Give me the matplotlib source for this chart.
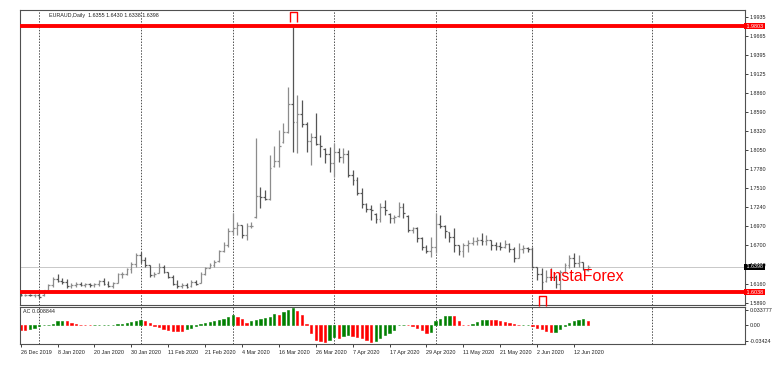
import matplotlib
matplotlib.use("Agg")
import matplotlib.pyplot as plt
import matplotlib.transforms as mtransforms
from matplotlib.collections import LineCollection
from matplotlib.path import Path
import numpy as np

# EURAUD daily bars, 26 Dec 2019 .. mid Jun 2020
opens = [1.6010, 1.6000, 1.6005, 1.5995, 1.6000, 1.5995, 1.6070, 1.6140, 1.6230, 1.6200,
         1.6180, 1.6120, 1.6140, 1.6160, 1.6135, 1.6150, 1.6140, 1.6150, 1.6190, 1.6160,
         1.6130, 1.6170, 1.6290, 1.6300, 1.6360, 1.6440, 1.6560, 1.6500, 1.6420, 1.6280,
         1.6315, 1.6400, 1.6325, 1.6260, 1.6160, 1.6120, 1.6140, 1.6120, 1.6180, 1.6175,
         1.6300, 1.6385, 1.6420, 1.6475, 1.6620, 1.6700, 1.6900, 1.6950, 1.6985, 1.6850,
         1.6980, 1.7100, 1.7400, 1.7380, 1.7360, 1.7820, 1.7900, 1.8160, 1.8300, 1.8700,
         1.8450, 1.8560, 1.8420, 1.8180, 1.8240, 1.8130, 1.8070, 1.8000, 1.7860, 1.8020,
         1.7950, 1.7990, 1.7700, 1.7620, 1.7440, 1.7280, 1.7210, 1.7150, 1.7080, 1.7240,
         1.7150, 1.7090, 1.7110, 1.7240, 1.7120, 1.6920, 1.6950, 1.6800, 1.6680, 1.6620,
         1.6680, 1.7000, 1.6980, 1.6890, 1.6820, 1.6700, 1.6620, 1.6700, 1.6740, 1.6760,
         1.6780, 1.6760, 1.6775, 1.6700, 1.6690, 1.6680, 1.6720, 1.6650, 1.6520, 1.6650,
         1.6660, 1.6650, 1.6395, 1.6300, 1.6190, 1.6260, 1.6250, 1.6150, 1.6320, 1.6420,
         1.6520, 1.6450, 1.6460, 1.6355]
highs = [1.6025, 1.6020, 1.6015, 1.6010, 1.6030, 1.6075, 1.6150, 1.6250, 1.6300, 1.6240,
         1.6230, 1.6170, 1.6185, 1.6185, 1.6175, 1.6175, 1.6175, 1.6215, 1.6235, 1.6200,
         1.6180, 1.6310, 1.6330, 1.6380, 1.6470, 1.6593, 1.6611, 1.6541, 1.6423, 1.6328,
         1.6452, 1.6423, 1.6328, 1.6282, 1.6211, 1.6169, 1.6169, 1.6211, 1.6211, 1.6328,
         1.6399, 1.6452, 1.6494, 1.6635, 1.6753, 1.6947, 1.7159, 1.7036, 1.6989, 1.7017,
         1.7036, 1.8220, 1.7531, 1.7484, 1.7979, 1.8106, 1.8333, 1.8432, 1.8945, 1.9803,
         1.8828, 1.8757, 1.8450, 1.8290, 1.8573, 1.8262, 1.8078, 1.8097, 1.8149, 1.8078,
         1.8078, 1.8050, 1.7767, 1.7672, 1.7512, 1.7300, 1.7272, 1.7159, 1.7300, 1.7343,
         1.7159, 1.7131, 1.7319, 1.7300, 1.7131, 1.6965, 1.6965, 1.6824, 1.6706, 1.6824,
         1.7159, 1.7131, 1.6989, 1.6894, 1.6947, 1.6706, 1.6735, 1.6777, 1.6824, 1.6824,
         1.6876, 1.6848, 1.6777, 1.6753, 1.6753, 1.6777, 1.6735, 1.6682, 1.6735, 1.6706,
         1.6682, 1.6682, 1.6399, 1.6381, 1.6353, 1.6377, 1.6282, 1.6353, 1.6452, 1.6565,
         1.6589, 1.6565, 1.6470, 1.6430]
lows = [1.5985, 1.5990, 1.5980, 1.5975, 1.5960, 1.5990, 1.6070, 1.6110, 1.6180, 1.6160,
        1.6100, 1.6100, 1.6110, 1.6120, 1.6110, 1.6110, 1.6110, 1.6120, 1.6140, 1.6115,
        1.6105, 1.6165, 1.6240, 1.6280, 1.6306, 1.6395, 1.6452, 1.6399, 1.6258, 1.6258,
        1.6310, 1.6310, 1.6240, 1.6140, 1.6098, 1.6098, 1.6098, 1.6116, 1.6140, 1.6169,
        1.6282, 1.6381, 1.6399, 1.6470, 1.6611, 1.6682, 1.6848, 1.6848, 1.6805, 1.6777,
        1.6942, 1.7088, 1.7230, 1.7343, 1.7343, 1.7814, 1.7814, 1.8149, 1.8290, 1.8026,
        1.8007, 1.8379, 1.8026, 1.7838, 1.8121, 1.7955, 1.7866, 1.7743, 1.7672, 1.7884,
        1.7866, 1.7672, 1.7555, 1.7413, 1.7230, 1.7177, 1.7060, 1.7017, 1.7036, 1.7131,
        1.7017, 1.7017, 1.7107, 1.7088, 1.6895, 1.6876, 1.6753, 1.6635, 1.6593, 1.6541,
        1.6593, 1.6947, 1.6805, 1.6753, 1.6611, 1.6565, 1.6541, 1.6611, 1.6706, 1.6706,
        1.6706, 1.6706, 1.6635, 1.6635, 1.6635, 1.6659, 1.6611, 1.6470, 1.6518, 1.6593,
        1.6611, 1.6377, 1.6211, 1.6046, 1.6187, 1.6211, 1.6098, 1.6070, 1.6310, 1.6381,
        1.6399, 1.6399, 1.6353, 1.6338]
closes = [1.6000, 1.6005, 1.5995, 1.6000, 1.5975, 1.6070, 1.6140, 1.6230, 1.6200, 1.6180,
          1.6120, 1.6140, 1.6160, 1.6135, 1.6150, 1.6140, 1.6150, 1.6190, 1.6160, 1.6130,
          1.6170, 1.6290, 1.6300, 1.6360, 1.6440, 1.6560, 1.6500, 1.6430, 1.6280, 1.6300,
          1.6400, 1.6330, 1.6260, 1.6160, 1.6120, 1.6140, 1.6110, 1.6180, 1.6150, 1.6300,
          1.6380, 1.6420, 1.6460, 1.6620, 1.6700, 1.6900, 1.6950, 1.6990, 1.6850, 1.6980,
          1.6980, 1.7400, 1.7380, 1.7360, 1.7800, 1.7900, 1.8100, 1.8300, 1.8700, 1.8450,
          1.8560, 1.8420, 1.8180, 1.8240, 1.8130, 1.8100, 1.8000, 1.7860, 1.8020, 1.7950,
          1.7990, 1.7700, 1.7620, 1.7440, 1.7280, 1.7210, 1.7200, 1.7080, 1.7240, 1.7200,
          1.7090, 1.7100, 1.7240, 1.7160, 1.6920, 1.6950, 1.6800, 1.6680, 1.6620, 1.6680,
          1.7000, 1.6980, 1.6900, 1.6820, 1.6700, 1.6620, 1.6700, 1.6740, 1.6760, 1.6780,
          1.6760, 1.6780, 1.6700, 1.6690, 1.6680, 1.6720, 1.6650, 1.6520, 1.6650, 1.6660,
          1.6650, 1.6400, 1.6300, 1.6180, 1.6260, 1.6250, 1.6150, 1.6320, 1.6420, 1.6520,
          1.6450, 1.6460, 1.6360, 1.6398]

# Accelerator oscillator
ac_values = [-0.0095, -0.0098, -0.0070, -0.0050, -0.0020, 0.0008, 0.0015, 0.0030, 0.0088, 0.0100,
             0.0088, 0.0050, 0.0030, 0.0015, 0.0010, 0.0007, 0.0008, 0.0009, 0.0010, 0.0012,
             0.0015, 0.0020, 0.0030, 0.0050, 0.0065, 0.0090, 0.0110, 0.0090, 0.0050, -0.0015,
             -0.0045, -0.0080, -0.0110, -0.0112, -0.0115, -0.0120, -0.0090, -0.0060, -0.0010, 0.0030,
             0.0050, 0.0070, 0.0100, 0.0120, 0.0150, 0.0185, 0.0220, 0.0195, 0.0140, 0.0050,
             0.0090, 0.0110, 0.0140, 0.0160, 0.0195, 0.0257, 0.0235, 0.0286, 0.0345, 0.0380,
             0.0310, 0.0235, 0.0030, -0.0170, -0.0330, -0.0350, -0.0367, -0.0310, -0.0260, -0.0270,
             -0.0240, -0.0220, -0.0230, -0.0250, -0.0280, -0.0330, -0.0367, -0.0350, -0.0280, -0.0220,
             -0.0170, -0.0095, 0.0003, 0.0008, 0.0005, -0.0020, -0.0060, -0.0100, -0.0170, -0.0155,
             0.0088, 0.0140, 0.0200, 0.0210, 0.0200, 0.0088, 0.0010, 0.0005, 0.0030, 0.0073,
             0.0115, 0.0125, 0.0120, 0.0110, 0.0088, 0.0066, 0.0050, 0.0020, 0.0015, 0.0017,
             0.0019, -0.0005, -0.0055, -0.0090, -0.0130, -0.0155, -0.0135, -0.0088, -0.0010, 0.0055,
             0.0088, 0.0120, 0.0130, 0.008844]

date_label_bars = [0, 8, 16, 24, 32, 40, 48, 56, 64, 72, 80, 88, 96, 104, 112, 120]
date_labels = ["26 Dec 2019", "8 Jan 2020", "20 Jan 2020", "30 Jan 2020", "11 Feb 2020",
               "21 Feb 2020", "4 Mar 2020", "16 Mar 2020", "26 Mar 2020", "7 Apr 2020",
               "17 Apr 2020", "29 Apr 2020", "11 May 2020", "21 May 2020", "2 Jun 2020",
               "12 Jun 2020"]
month_grid_bars = [4, 26, 46, 68, 90, 111, 137]

price_ticks = [1.9935, 1.9665, 1.9395, 1.9125, 1.8860, 1.8590, 1.8320, 1.8050, 1.7780,
               1.7510, 1.7240, 1.6970, 1.6700, 1.6430, 1.6160, 1.5890]
level_lines = [1.9803, 1.6038]
mark_bars = [59, 113]
mark_prices = [1.9931, 1.5921]
ac_ticks = [0.033777, 0.0, -0.03424]
ac_tick_labels = ["0.033777", "0.00", "-0.03424"]

plt.rcParams['font.family'] = ['Liberation Sans', 'DejaVu Sans']

W, H = 782, 366
fig = plt.figure(figsize=(W / 100, H / 100), dpi=100)
fig.patch.set_facecolor('white')

def rect(x0, y0, x1, y1):
    return [x0 / W, 1 - y1 / H, (x1 - x0) / W, (y1 - y0) / H]

ax = fig.add_axes(rect(20, 10, 745, 304.5))
ax_ac = fig.add_axes(rect(20, 306.5, 745, 344), sharex=ax)

n = len(closes)
x = np.arange(n)
xlim = (-0.15, 157.1)

# --- price bars
up_col, dn_col = '#8c8c8c', '#555555'
cols = [up_col if c >= o else dn_col for o, c in zip(opens, closes)]
segs = []
for i in range(n):
    segs.append([(x[i], lows[i]), (x[i], highs[i])])
    segs.append([(x[i] - 0.38, opens[i]), (x[i], opens[i])])
    segs.append([(x[i], closes[i]), (x[i] + 0.38, closes[i])])
seg_cols = [c for c in cols for _ in range(3)]
ax.add_collection(LineCollection(segs, colors=seg_cols, linewidths=0.9))

ax.axhline(closes[-1], color='#c8c8c8', lw=0.7, zorder=1)
for lv in level_lines:
    ax.axhline(lv, color='#ff0000', lw=2.8, zorder=3)

mark = Path([(-0.7, -1), (-0.7, 1), (0.7, 1), (0.7, -1)],
            [Path.MOVETO, Path.LINETO, Path.LINETO, Path.LINETO])
ax.plot(mark_bars, mark_prices, linestyle='none', marker=mark, markersize=7.2,
        mfc='none', mec='#ff0000', mew=1.0, zorder=4, clip_on=False)

for a in (ax, ax_ac):
    for b in month_grid_bars:
        a.axvline(b, color='#505050', lw=0.7, ls=(0, (1.5, 1.5)), zorder=0)
    for s in a.spines.values():
        s.set_color('#505050')
        s.set_linewidth(0.8)
    a.set_facecolor('white')

ax.set_xlim(*xlim)
ax.set_ylim(1.58647, 2.00298)
ax.yaxis.tick_right()
ax.set_yticks(price_ticks)
ax.set_yticklabels([f"{p:.4f}" for p in price_ticks])
ax.tick_params(axis='y', length=2, width=0.6, pad=1.5, labelsize=3.9, colors='#202020')
ax.tick_params(axis='x', bottom=False, labelbottom=False)

ytr = mtransforms.blended_transform_factory(ax.transAxes, ax.transData)
for lv in level_lines:
    ax.text(1.0, lv, f" {lv:.4f} ", transform=ytr, ha='left', va='center', fontsize=3.9,
            color='white', bbox=dict(fc='#ff0000', ec='none', pad=0.5), zorder=6, clip_on=False)
ax.text(1.0, closes[-1], f" {closes[-1]:.4f} ", transform=ytr, ha='left', va='center',
        fontsize=3.9, color='white', bbox=dict(fc='black', ec='none', pad=0.5), zorder=6,
        clip_on=False)

ax.text(29 / 725, 1 - 6 / 294.5,
        f"EURAUD,Daily  {opens[-1]:.4f} {highs[-1]:.4f} {lows[-1]:.4f} {closes[-1]:.4f}",
        transform=ax.transAxes, ha='left', va='center', fontsize=3.9, color='#202020')

# --- AC histogram
ac = np.array(ac_values)
ac_cols = ['#ff0000'] + ['#008000' if ac[i] > ac[i - 1] else '#ff0000' for i in range(1, n)]
ax_ac.bar(x, ac, width=0.5, color=ac_cols, edgecolor=ac_cols, linewidth=0.4)
ax_ac.set_ylim(-0.04082, 0.04146)
ax_ac.yaxis.tick_right()
ax_ac.set_yticks(ac_ticks)
ax_ac.set_yticklabels(ac_tick_labels)
ax_ac.tick_params(axis='y', length=2, width=0.6, pad=1.5, labelsize=3.9, colors='#202020')
ax_ac.set_xticks(date_label_bars)
ax_ac.set_xticklabels(date_labels)
ax_ac.tick_params(axis='x', length=2, width=0.6, pad=2, labelsize=3.9, colors='#202020')
for lab in ax_ac.get_xticklabels():
    lab.set_ha('left')
ax_ac.text(3 / 725, 1 - 5 / 37.5, f"AC {ac_values[-1]:.6f}", transform=ax_ac.transAxes,
           ha='left', va='center', fontsize=3.9, color='#202020')

fig.text(549 / W, 1 - 281 / H, "InstaForex", color='#ff0000', fontsize=11.5,
         ha='left', va='baseline')

fig.savefig("out.png", dpi=100)
